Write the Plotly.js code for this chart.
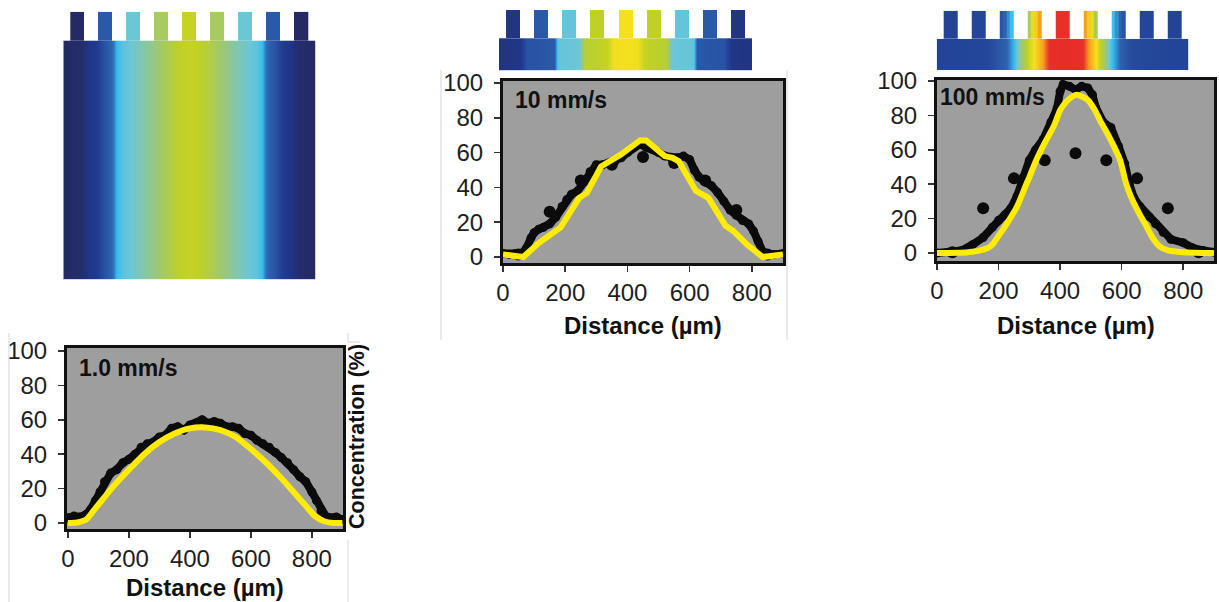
<!DOCTYPE html>
<html>
<head>
<meta charset="utf-8">
<script src="https://cdn.plot.ly/plotly-3.0.1.min.js"></script>
<style>
  html, body { margin: 0; padding: 0; background: #ffffff; }
  #chart { width: 1219px; height: 602px; }
</style>
</head>
<body>
<div id="chart"></div>
<script>
// ---- Inlet positions (µm) and the concentration each inlet delivers (%) ----
const inletX = [50, 150, 250, 350, 450, 550, 650, 750, 850];
const inletConc10 = [1.5, 26, 44, 53, 57.5, 54, 44, 27, 1.5];
const inletConc100 = [0.5, 26, 43.4, 54, 58, 54, 43.4, 26, 0.5];

// ---- 1.0 mm/s profiles ----
const sim1X = [0, 30, 60, 90, 120, 150, 200, 250, 300, 350, 400, 450, 500, 550, 600, 650, 700, 750, 780, 810, 840, 870, 900];
const sim1Y = [0, 0.3, 2, 8.5, 15, 21.5, 31, 40, 47, 52, 55, 55.5, 54, 50, 43, 35, 26, 16, 10, 4, 1, 0, 0];
const exp1X = [0, 20, 40, 60, 75, 90, 105, 120, 140, 160, 180, 200, 220, 240, 260, 280, 300, 320, 340, 360, 380, 400, 420, 440, 460, 480, 500, 520, 540, 560, 580, 600, 620, 640, 660, 680, 700, 720, 740, 760, 780, 800, 815, 830, 845, 860, 880, 900];
const exp1Y = [3, 4, 3.5, 5, 8, 13, 18, 24, 29, 31, 35, 37, 40, 44, 46, 47, 50, 51, 55, 56, 54, 57, 58, 60, 58, 59, 58, 56, 56, 55, 52, 51, 48, 46, 44, 41, 38, 35, 31, 27, 24, 18, 13, 7, 4, 3, 3.5, 2];

// ---- 10 mm/s profiles ----
const sim10X = [0, 65, 115, 165, 185, 245, 270, 315, 360, 380, 440, 460, 520, 545, 565, 620, 660, 715, 740, 785, 835, 900];
const sim10Y = [1.5, 0, 8, 15, 17, 34, 37, 52, 57, 59, 67, 67, 58, 57, 55, 38, 34, 18, 15, 7, 0, 1.5];
const exp10X = [0, 20, 40, 60, 75, 90, 100, 115, 130, 150, 170, 190, 205, 220, 240, 260, 280, 300, 320, 340, 360, 380, 400, 420, 440, 460, 480, 500, 520, 540, 560, 580, 600, 615, 630, 650, 670, 690, 710, 730, 750, 770, 790, 805, 820, 835, 850, 870, 900];
const exp10Y = [2, 1.5, 2, 2, 5, 11, 14, 16, 17, 19, 23, 29, 33, 36, 38, 43, 49, 53, 53, 54, 55, 57, 60, 63, 65, 63, 62, 60, 58, 57, 57, 58, 56, 50, 46, 43, 41, 37, 32, 27, 24, 21, 19, 15, 9, 3, 2, 1.5, 2];

// ---- 100 mm/s profiles ----
const sim100X = [0, 100, 150, 175, 200, 230, 260, 290, 300, 320, 350, 380, 400, 420, 440, 455, 470, 490, 510, 530, 552, 575, 595, 615, 632, 660, 682, 700, 725, 750, 800, 900];
const sim100Y = [0, 0.5, 2, 4, 10, 18, 27, 40, 44, 53, 64, 74, 83, 88, 91, 92, 91, 89, 84, 77, 70, 62, 54, 40, 32, 22, 15, 9, 3.5, 1.5, 0.5, 0];
const exp100X = [0, 40, 80, 117, 150, 180, 200, 220, 240, 260, 280, 300, 320, 345, 370, 390, 400, 410, 430, 450, 470, 490, 505, 515, 540, 565, 590, 610, 625, 640, 660, 690, 710, 735, 760, 800, 830, 865, 900];
const exp100Y = [0, 0.5, 1.5, 5, 9, 15, 19, 22, 26, 33, 44, 54, 60, 66, 76, 84, 94, 98, 97, 95, 97, 96, 92, 85, 76, 73, 62, 52, 40, 32, 27, 21, 17, 12, 8, 6, 3, 1.5, 0.5];

// ---- Colour maps of the channel (normalised concentration across the width) ----
const map1X = [0, 60, 90, 120, 145, 178, 190, 210, 250, 290, 330, 380, 415, 450, 485, 520, 570, 610, 650, 690, 710, 722, 755, 780, 810, 840, 900];
const map1Z = [0, 0.02, 0.09, 0.13, 0.2, 0.27, 0.35, 0.40, 0.43, 0.47, 0.52, 0.58, 0.62, 0.63, 0.62, 0.58, 0.52, 0.47, 0.43, 0.40, 0.35, 0.27, 0.2, 0.13, 0.09, 0.02, 0];
const teeth1 = [0.0, 0.22, 0.42, 0.55, 0.63, 0.55, 0.42, 0.22, 0.0];

const map10X = [0, 70, 100, 195, 210, 285, 305, 385, 405, 450, 495, 515, 595, 615, 690, 705, 800, 830, 900];
const map10Z = [0.08, 0.09, 0.2, 0.22, 0.41, 0.42, 0.6, 0.63, 0.69, 0.70, 0.69, 0.63, 0.6, 0.42, 0.41, 0.22, 0.2, 0.09, 0.08];
const teeth10 = [0.08, 0.22, 0.41, 0.62, 0.70, 0.62, 0.41, 0.22, 0.08];

const map100X = [0, 180, 250, 277, 298, 322, 346, 378, 400, 462, 524, 544, 568, 598, 626, 655, 700, 900];
const map100Z = [0.15, 0.16, 0.25, 0.35, 0.5, 0.62, 0.70, 0.80, 0.9, 0.93, 0.9, 0.80, 0.70, 0.55, 0.36, 0.25, 0.17, 0.15];
const teeth100 = [0.15, 0.16, [0.2, 0.25, 0.3, 0.36], [0.55, 0.68, 0.73, 0.8], 0.9, [0.8, 0.73, 0.68, 0.55], [0.36, 0.3, 0.25, 0.2], 0.16, 0.15];

const tickX = [0, 200, 400, 600, 800];
const tickY = [0, 20, 40, 60, 80, 100];

// ---- drawing ----
const W = 1219, H = 602;
const domX = (l, r) => [l / W, r / W];
const domY = (t, b) => [1 - b / H, 1 - t / H];

const jet = [
  [0.00, '#252a64'], [0.12, '#1f3a90'], [0.25, '#2f62b0'], [0.35, '#34bdf0'],
  [0.42, '#6cc6d6'], [0.52, '#9cc878'], [0.62, '#bfd125'], [0.70, '#f6e01e'],
  [0.80, '#f5a021'], [0.90, '#e8302a'], [1.00, '#e02422']
];
const INLET_W = 50;

function bodyTrace(xs, zs, top, n) {
  return {
    type: 'heatmap', x: xs, y: [0, top / 2, top], z: [zs, zs],
    colorscale: jet, zmin: 0, zmax: 1, zsmooth: 'best', showscale: false,
    hoverinfo: 'skip', xaxis: 'x' + n, yaxis: 'y' + n
  };
}
function teethTrace(vals, top, n) {
  const edges = [], z = [];
  inletX.forEach((c, i) => {
    const arr = Array.isArray(vals[i]) ? vals[i] : [vals[i]];
    const w = INLET_W / arr.length;
    arr.forEach((v, k) => { edges.push(c - INLET_W / 2 + k * w); z.push(v); });
    if (i < inletX.length - 1) { edges.push(c + INLET_W / 2); z.push(null); }
  });
  edges.push(inletX[inletX.length - 1] + INLET_W / 2);
  return {
    type: 'heatmap', x: edges, y: [top, 1], z: [z],
    colorscale: jet, zmin: 0, zmax: 1, zsmooth: false, showscale: false,
    hoverinfo: 'skip', xaxis: 'x' + n, yaxis: 'y' + n
  };
}
function expTrace(xs, ys, n) {
  return { type: 'scatter', mode: 'lines+markers', x: xs, y: ys, xaxis: 'x' + n, yaxis: 'y' + n,
    line: { color: '#0b0b0b', width: 8 }, marker: { color: '#0b0b0b', size: 9 }, hoverinfo: 'skip' };
}
function simTrace(xs, ys, n, shape) {
  return { type: 'scatter', mode: 'lines', x: xs, y: ys, xaxis: 'x' + n, yaxis: 'y' + n,
    line: { color: '#ffec00', width: 6, shape: shape, smoothing: 0.7 }, hoverinfo: 'skip' };
}
function dotTrace(ys, n) {
  return { type: 'scatter', mode: 'markers', x: inletX, y: ys, xaxis: 'x' + n, yaxis: 'y' + n,
    marker: { color: '#0b0b0b', size: 12 }, hoverinfo: 'skip' };
}

const body1Top = 0.8916, body10Top = 0.534, body100Top = 0.523;

const traces = [
  bodyTrace(map1X, map1Z, body1Top, ''), teethTrace(teeth1, body1Top, ''),
  bodyTrace(map10X, map10Z, body10Top, 2), teethTrace(teeth10, body10Top, 2),
  bodyTrace(map100X, map100Z, body100Top, 3), teethTrace(teeth100, body100Top, 3),
  dotTrace(inletConc10, 4), expTrace(exp10X, exp10Y, 4), simTrace(sim10X, sim10Y, 4, 'linear'),
  dotTrace(inletConc100, 5), expTrace(exp100X, exp100Y, 5), simTrace(sim100X, sim100Y, 5, 'spline'),
  expTrace(exp1X, exp1Y, 6), simTrace(sim1X, sim1Y, 6, 'spline')
];

const tickFont = { family: 'Liberation Sans, Arial, sans-serif', size: 24, color: '#1e1e1e' };
function imgAxes(dx, dy, anchor) {
  return [
    { domain: dx, range: [0, 900], visible: false, fixedrange: true, anchor: 'y' + anchor },
    { domain: dy, range: [0, 1], visible: false, fixedrange: true, anchor: 'x' + anchor }
  ];
}
function chartAxes(dx, dy, rx, ry, anchor) {
  const common = {
    showline: true, linecolor: '#111', linewidth: 3, mirror: true,
    ticks: 'outside', ticklen: 6, tickwidth: 1.5, tickcolor: '#333',
    showgrid: false, zeroline: false, tickfont: tickFont, fixedrange: true
  };
  return [
    Object.assign({ domain: dx, range: rx, tickvals: tickX, anchor: 'y' + anchor, ticklabelstandoff: 0 }, common),
    Object.assign({ domain: dy, range: ry, tickvals: tickY, anchor: 'x' + anchor, ticklabelstandoff: 6 }, common)
  ];
}

const [xa1, ya1] = imgAxes(domX(63.3, 315.7), domY(11.7, 279.3), '');
const [xa2, ya2] = imgAxes(domX(499, 752), domY(10, 70.7), 2);
const [xa3, ya3] = imgAxes(domX(936.7, 1188.3), domY(10.7, 70), 3);
const [xa4, ya4] = chartAxes(domX(503, 783), domY(81, 263), [0, 900], [-3.45, 101.15], 4);
const [xa5, ya5] = chartAxes(domX(937, 1214), domY(80, 261), [0, 900], [-4.65, 100.6], 5);
const [xa6, ya6] = chartAxes(domX(67, 343), domY(348, 529), [-3, 902], [-3.5, 101.7], 6);
xa1.anchor = 'y'; ya1.anchor = 'x';

const grey = n => ({ type: 'rect', xref: 'x' + n + ' domain', yref: 'y' + n + ' domain',
  x0: 0, x1: 1, y0: 0, y1: 1, fillcolor: '#9e9e9e', line: { width: 0 }, layer: 'below' });
const faint = (x0, y0, x1, y1) => ({ type: 'line', xref: 'paper', yref: 'paper',
  x0: x0 / W, x1: x1 / W, y0: 1 - y0 / H, y1: 1 - y1 / H, line: { color: '#d6d6d6', width: 1 } });

const speedFont = { family: 'Liberation Sans, Arial, sans-serif', size: 23, color: '#111' };
const titleFont = { family: 'Liberation Sans, Arial, sans-serif', size: 24, color: '#111' };
const speed = (text, n, x, y) => ({ text: '<b>' + text + '</b>', xref: 'x' + n + ' domain', yref: 'y' + n + ' domain',
  x: x, y: y, xanchor: 'left', yanchor: 'middle', showarrow: false, font: speedFont });
const dist = (n, y) => ({ text: '<b>Distance (µm)</b>', xref: 'x' + n + ' domain', yref: 'paper',
  x: 0.5, y: y, xanchor: 'center', yanchor: 'middle', showarrow: false, font: titleFont });

const layout = {
  width: W, height: H, margin: { l: 0, r: 0, t: 0, b: 0 },
  paper_bgcolor: '#ffffff', plot_bgcolor: 'rgba(0,0,0,0)', showlegend: false,
  xaxis: xa1, yaxis: ya1, xaxis2: xa2, yaxis2: ya2, xaxis3: xa3, yaxis3: ya3,
  xaxis4: xa4, yaxis4: ya4, xaxis5: xa5, yaxis5: ya5, xaxis6: xa6, yaxis6: ya6,
  shapes: [
    grey(4), grey(5), grey(6),
    faint(441, 70, 441, 340), faint(787, 70, 787, 340),
    faint(9, 333, 9, 602), faint(348, 333, 348, 342), faint(348, 342, 360, 342), faint(348, 540, 348, 602)
  ],
  annotations: [
    speed('10 mm/s', 4, 0.035, 0.895),
    speed('100 mm/s', 5, 0.005, 0.905),
    speed('1.0 mm/s', 6, 0.035, 0.89),
    dist(4, 1 - 325 / H), dist(5, 1 - 325 / H), dist(6, 1 - 587 / H),
    { text: '<b>Concentration (%)</b>', xref: 'paper', yref: 'paper', x: 357 / W, y: 1 - 437 / H,
      xanchor: 'center', yanchor: 'middle', textangle: -90, showarrow: false,
      font: { family: 'Liberation Sans, Arial, sans-serif', size: 21.5, color: '#111' } }
  ]
};

Plotly.newPlot('chart', traces, layout, { staticPlot: true, displayModeBar: false });
</script>
</body>
</html>
